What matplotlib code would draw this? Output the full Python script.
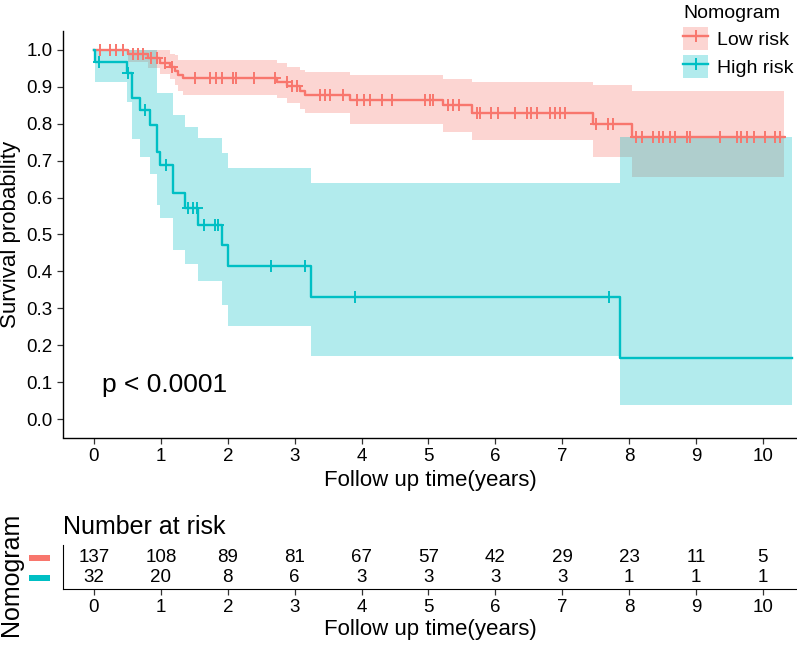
import numpy as np
import matplotlib
matplotlib.use("Agg")
import matplotlib.pyplot as plt
import matplotlib.transforms as mtransforms
from matplotlib.patches import Patch, Rectangle
from matplotlib.lines import Line2D

plt.rcParams['font.family'] = ['Liberation Sans', 'DejaVu Sans']

# --- data ---
# low risk group: step times, survival, confidence band
low_t = [0, 0.51, 0.81, 0.99, 1.14, 1.21, 1.26, 1.33, 2.73, 2.89, 3.08, 3.15, 3.83, 5.22, 5.65, 7.46, 8.04]
low_s = [1.0, 0.989, 0.977, 0.966, 0.955, 0.944, 0.933, 0.924, 0.914, 0.903, 0.889, 0.878, 0.864, 0.851, 0.828, 0.799, 0.765]
low_up = [1.0, 1.0, 1.0, 1.0, 0.99, 0.985, 0.973, 0.973, 0.964, 0.955, 0.946, 0.94, 0.931, 0.922, 0.913, 0.904, 0.888]
low_lo = [1.0, 0.968, 0.95, 0.935, 0.92, 0.905, 0.89, 0.878, 0.869, 0.855, 0.84, 0.828, 0.799, 0.779, 0.756, 0.71, 0.657]
low_end = 10.32
low_cens = [0.09, 0.24, 0.33, 0.43, 0.59, 0.66, 0.74, 0.86, 0.94, 1.06, 1.17, 1.51, 1.73, 1.83, 1.91,
            2.08, 2.13, 2.39, 2.71, 2.88, 2.96, 3.03, 3.38, 3.45, 3.53, 3.73, 3.93, 4.03, 4.13, 4.30,
            4.45, 4.95, 5.02, 5.07, 5.30, 5.37, 5.45, 5.72, 5.77, 5.94, 6.04, 6.29, 6.47, 6.54, 6.62,
            6.82, 6.89, 6.97, 7.04, 7.51, 7.69, 7.76, 8.11, 8.19, 8.36, 8.44, 8.51, 8.61, 8.68, 8.86,
            8.91, 9.36, 9.61, 9.68, 9.76, 9.86, 10.03, 10.18, 10.25]

# high risk group
high_t = [0, 0.02, 0.50, 0.57, 0.69, 0.84, 0.94, 0.99, 1.18, 1.36, 1.56, 1.92, 2.01, 3.24, 7.86]
high_s = [1.0, 0.968, 0.937, 0.869, 0.837, 0.797, 0.724, 0.688, 0.612, 0.571, 0.526, 0.472, 0.415, 0.331, 0.166]
high_up = [1.0, 1.0, 1.0, 1.0, 1.0, 1.0, 0.883, 0.883, 0.824, 0.792, 0.761, 0.72, 0.679, 0.639, 0.763]
high_lo = [1.0, 0.914, 0.86, 0.759, 0.711, 0.664, 0.58, 0.544, 0.458, 0.42, 0.375, 0.309, 0.252, 0.171, 0.038]
high_end = 10.43
high_cens = [0.08, 0.51, 0.77, 1.08, 1.41, 1.48, 1.54, 1.64, 1.81, 1.85, 2.64, 3.15, 3.90, 7.70]

# number at risk table
risk_times = [0, 1, 2, 3, 4, 5, 6, 7, 8, 9, 10]
low_risk = [137, 108, 89, 81, 67, 57, 42, 29, 23, 11, 5]
high_risk = [32, 20, 8, 6, 3, 3, 3, 3, 1, 1, 1]

groups = ["Low risk", "High risk"]
colors = ["#F8766D", "#00BFC4"]

W, H = 797, 648
fig = plt.figure(figsize=(W / 100, H / 100), dpi=100)

XLIM = (-0.463, 10.51)


def px_axes(l, t, r, b):
    return fig.add_axes([l / W, 1 - b / H, (r - l) / W, (b - t) / H])


def step_at(times, vals, q):
    idx = np.searchsorted(times, q, side="right") - 1
    return np.asarray(vals)[idx]


# --- survival curves ---
ax = px_axes(63, 31.5, 797, 437.5)
curves = [(low_t, low_s, low_up, low_lo, low_end, low_cens),
          (high_t, high_s, high_up, high_lo, high_end, high_cens)]
for (t, s, up, lo, end, cens), col in zip(curves, colors):
    tt = np.append(t, end)
    ss = np.append(s, s[-1])
    uu = np.append(up, up[-1])
    ll = np.append(lo, lo[-1])
    ax.fill_between(tt, ll, uu, step="post", color=col, alpha=0.3, lw=0)
    ax.step(tt, ss, where="post", color=col, lw=1.7)
    ax.plot(cens, step_at(t, s, cens), ls="none", marker="+", ms=9, mew=1.4, color=col)

ax.set_xlim(*XLIM)
ax.set_ylim(-0.05, 1.05)
ax.set_xticks(range(0, 11))
ax.set_yticks(np.arange(0, 1.01, 0.1))
ax.set_yticklabels(["%.1f" % v for v in np.arange(0, 1.01, 0.1)])
ax.spines["top"].set_visible(False)
ax.spines["right"].set_visible(False)
for sp in ("left", "bottom"):
    ax.spines[sp].set_linewidth(1.0)
ax.tick_params(axis="both", labelsize=13.5, length=4, width=0.9, color="#333333", labelcolor="black")
ax.set_xlabel("Follow up time(years)", fontsize=16, labelpad=4)
ax.set_ylabel("Survival probability", fontsize=16, labelpad=4)
ax.text(0.12, 0.092, "p < 0.0001", fontsize=19, ha="left", va="center")

# legend
handles = []
for col in colors:
    handles.append((Patch(facecolor=col, alpha=0.3, edgecolor="none"),
                    Line2D([], [], color=col, lw=1.7, marker="+", ms=9, mew=1.4)))
leg = fig.legend(handles, groups, loc="upper left", bbox_to_anchor=(680 / W, 1 - 2 / H),
                 frameon=False, fontsize=14, title="Nomogram", title_fontsize=14,
                 handlelength=1.3, handleheight=1.4, handletextpad=0.45, labelspacing=0.28,
                 borderpad=0.15, borderaxespad=0)
leg._legend_box.align = "left"

# --- risk table ---
ax2 = px_axes(63, 545, 797, 589)
ax2.set_xlim(*XLIM)
ax2.set_ylim(-0.55, 1.65)
for vals, yv in [(low_risk, 1), (high_risk, 0)]:
    for tx, n in zip(risk_times, vals):
        ax2.text(tx, yv, str(n), ha="center", va="center", fontsize=13.5)
ax2.set_xticks(risk_times)
ax2.set_yticks([])
ax2.spines["top"].set_visible(False)
ax2.spines["right"].set_visible(False)
ax2.tick_params(axis="x", labelsize=13.5, length=4, width=0.9, color="#333333")
ax2.set_xlabel("Follow up time(years)", fontsize=16, labelpad=2)
ax2.set_title("Number at risk", loc="left", fontsize=18, pad=8)

trans = mtransforms.blended_transform_factory(fig.transFigure, ax2.transData)
for yv, col in zip([1, 0], colors):
    ax2.add_patch(Rectangle((29 / W, yv - 0.17), 21 / W, 0.34, transform=trans,
                            facecolor=col, edgecolor="none", clip_on=False))
fig.text(11 / W, 1 - 574 / H, "Nomogram", rotation=90, ha="center", va="center", fontsize=18)

fig.savefig("out.png", dpi=100)
